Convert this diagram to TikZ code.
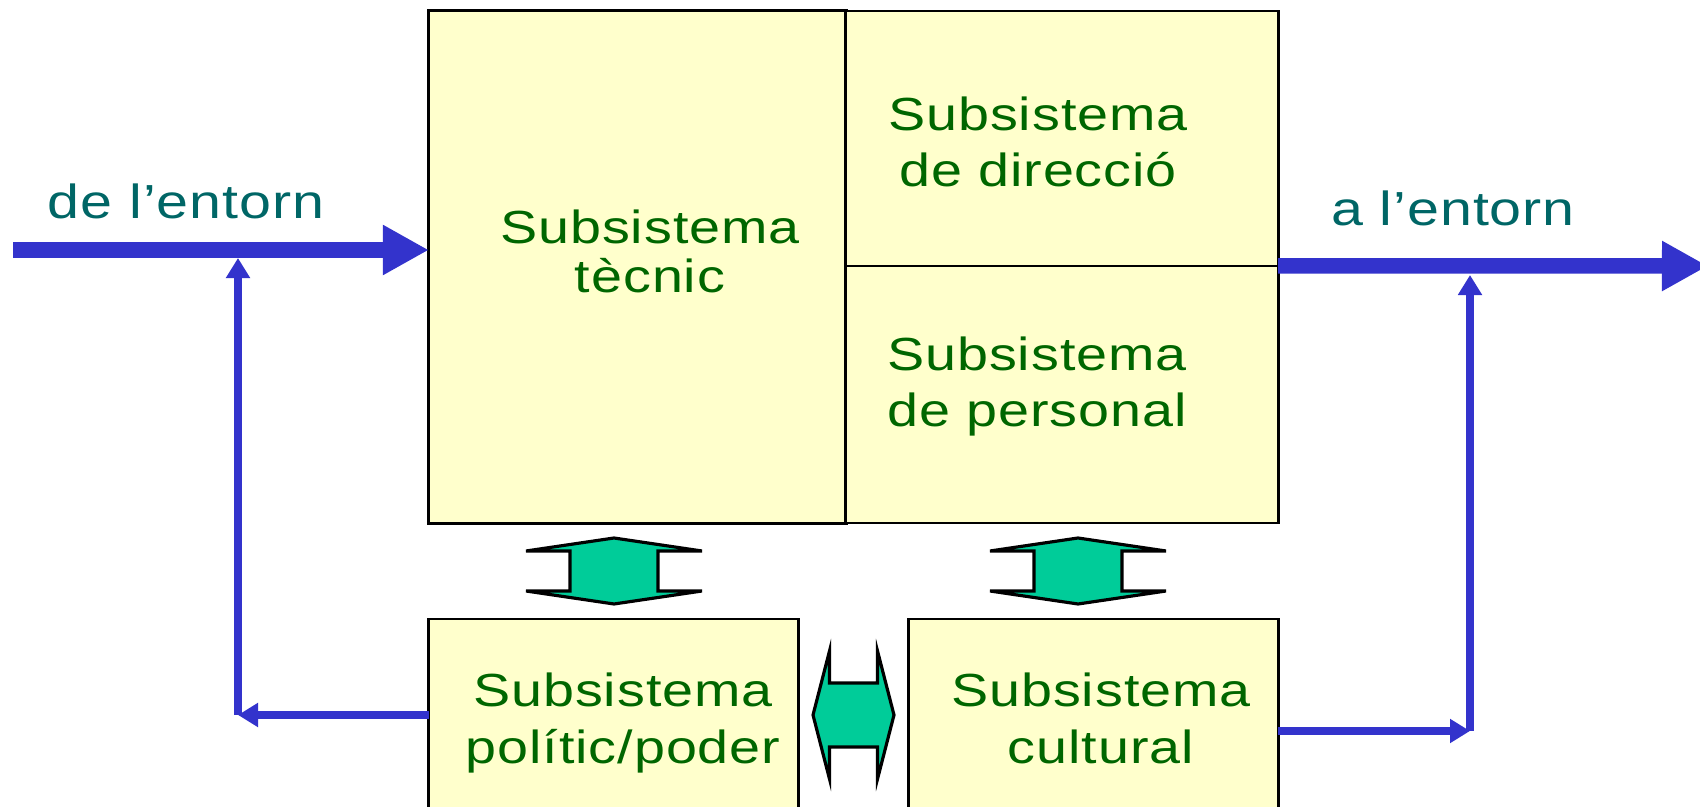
\documentclass[tikz,border=0pt]{standalone}
\usepackage{fontspec}
\setmainfont{Liberation Sans}[FakeStretch=1.2,LetterSpace=2]
\usepackage{xcolor}
\usetikzlibrary{arrows.meta}
\definecolor{boxfill}{HTML}{FFFFCC}
\definecolor{subgreen}{HTML}{006600}
\definecolor{envteal}{HTML}{006666}
\definecolor{flowblue}{HTML}{3333CC}
\definecolor{linkgreen}{HTML}{00CC99}
\tikzset{
	subsys/.style={draw=black, line width=0.8pt, fill=boxfill, inner sep=0pt, outer sep=0pt},
	subtext/.style={text=subgreen, align=center, anchor=base, font=\fontsize{13.2}{16.2}\selectfont},
	envtext/.style={text=envteal, anchor=base, font=\fontsize{13.6}{16}\selectfont},
	mainflow/.style={draw=flowblue, line width=4.4pt, -{Triangle[length=0.46cm,width=0.47cm]}},
	feedback/.style={draw=flowblue, line width=2.4pt, -{Triangle[length=0.2cm,width=0.23cm]}},
	link/.style={draw=black, line width=0.9pt, fill=linkgreen, line join=miter}
}

\begin{document}
\begin{tikzpicture}[x=0.01cm, y=-0.01cm, >=Stealth]
	\useasboundingbox (0,0) rectangle (1700,807);

	% The company and its subsystems
	\node[subsys, minimum width=4.17cm, minimum height=5.12cm] (tecnic) at (637.5,267) {};
	\node[subsys, minimum width=4.32cm, minimum height=2.55cm] (direccio) at (1062,138.5) {};
	\node[subsys, minimum width=4.32cm, minimum height=2.57cm] (personal) at (1062,394.5) {};
	\node[subsys, minimum width=3.69cm, minimum height=2.21cm] (politic) at (613.5,729.5) {};
	\node[subsys, minimum width=3.69cm, minimum height=2.21cm] (cultural) at (1093.5,729.5) {};

	% base anchor = baseline of the last line
	\node[subtext, font=\fontsize{13.2}{14.2}\selectfont] (tecnicT) at (650,293) {Subsistema\\tècnic};
	\node[subtext] (direccioT) at (1038,187) {Subsistema\\de direcció};
	\node[subtext] (personalT) at (1037,427) {Subsistema\\de personal};
	\node[subtext] (politicT) at (623,763) {Subsistema\\polític/poder};
	\node[subtext] (culturalT) at (1101,763) {Subsistema\\cultural};

	% Links between the subsystems
	\foreach \cx in {614,1078}
		\draw[link, shift={(\cx,571)}] (0,-33) -- (88,-20) -- (44,-20) -- (44,20) -- (88,20)
			-- (0,33) -- (-88,20) -- (-44,20) -- (-44,-20) -- (-88,-20) -- cycle;
	\draw[link, shift={(853.5,715)}] (-40.5,0) -- (-24,-64) -- (-24,-32) -- (24,-32) -- (24,-64)
		-- (40.5,0) -- (24,64) -- (24,32) -- (-24,32) -- (-24,64) -- cycle;

	% Flows from and to the environment
	\coordinate (src) at (13,250);
	\coordinate (snk) at (1708,266);
	\draw[mainflow] (src) -- (src -| tecnic.west);
	\draw[mainflow] (personal.north east) -- (snk);
	\node[envtext] (inLabel) at (186,219) {de l’entorn};
	\node[envtext] (outLabel) at (1453,226) {a l’entorn};

	% Feedback
	\coordinate (lcorner) at (238,715);
	\coordinate (ltap) at (238,258);
	\coordinate (rcorner) at (1470,731);
	\coordinate (rtap) at (1470,275);
	\draw[feedback] (lcorner -| politic.west) -- (lcorner);
	\draw[feedback] (lcorner) -- (ltap);
	\draw[feedback] (rcorner -| cultural.east) -- (rcorner);
	\draw[feedback] (rcorner) -- (rtap);
\end{tikzpicture}
\end{document}
